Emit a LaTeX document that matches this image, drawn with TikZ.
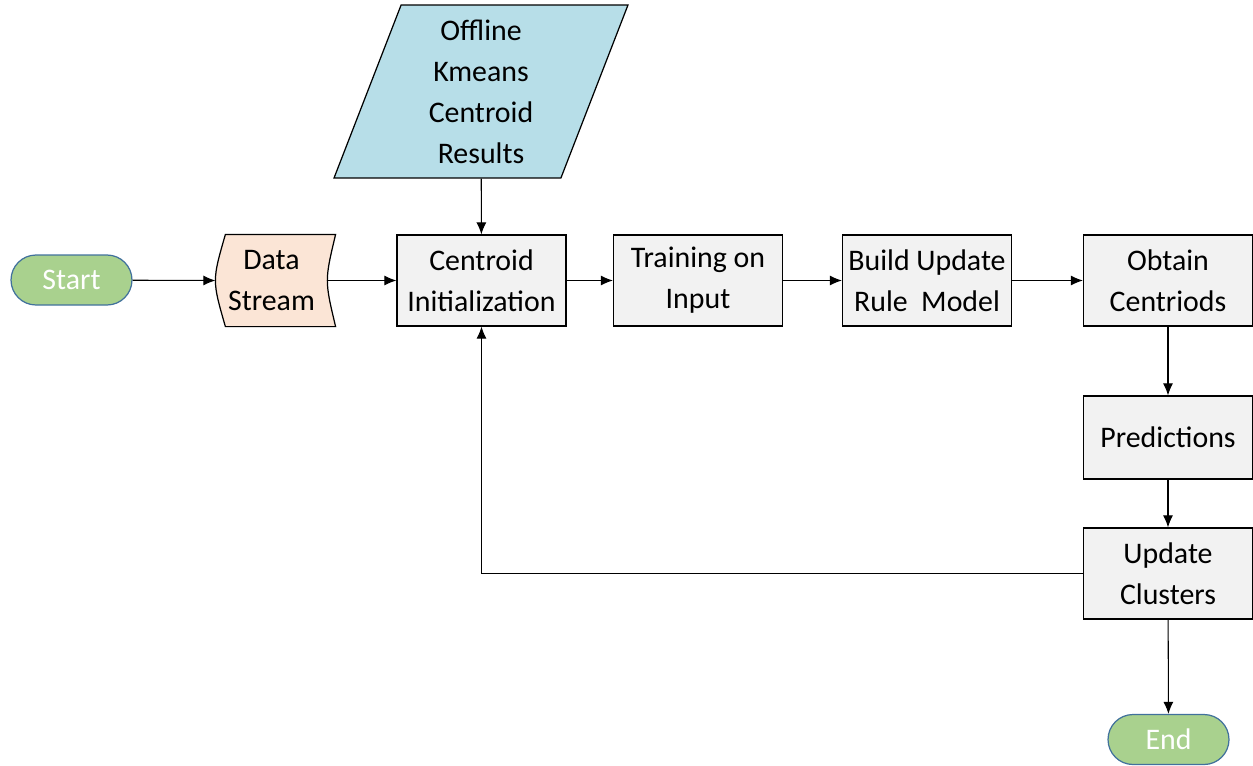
\documentclass[tikz,border=0pt]{standalone}
\usepackage{fontspec}
\setmainfont{Carlito}
\usetikzlibrary{shapes.geometric,arrows.meta}
\definecolor{termgreen}{HTML}{A9D18E}
\definecolor{termblue}{HTML}{41719C}
\definecolor{storepeach}{HTML}{FBE5D6}
\definecolor{inpblue}{HTML}{B7DEE8}
\definecolor{procgray}{HTML}{F2F2F2}
\pgfdeclarelayer{bg}
\pgfsetlayers{bg,main}

\begin{document}
\begin{tikzpicture}[x=0.02cm, y=-0.02cm,
  box/.style={draw, line width=0.7pt, inner sep=2pt, align=center,
              font=\fontsize{17}{23.3}\selectfont},
  proc/.style={box, fill=procgray, minimum width=3.38cm, minimum height=1.82cm},
  term/.style={box, draw=termblue, fill=termgreen, text=white,
               rounded corners=0.5cm, minimum width=2.42cm, minimum height=1.0cm},
  inp/.style={box, fill=inpblue, trapezium, trapezium left angle=66,
              trapezium right angle=114, trapezium stretches body,
              minimum width=5.88cm, minimum height=3.46cm},
  store/.style={box, draw=none, minimum width=2.22cm, minimum height=1.82cm},
  arr/.style={draw, line width=0.6pt, -{Latex[length=2.4mm,width=2mm]}},
]
\useasboundingbox (0,0) rectangle (1253,765);
% --- Top row ---
\node[term] (start) at (71.5, 280) {Start};
\node[store] (ds) at (271.5, 280.5) {Data\\Stream};
\node[inp] (offl) at (481, 91.5) {Offline\\Kmeans\\Centroid\\Results};
\node[proc] (ci) at (481.5, 280.5) {Centroid\\Initialization};
\node[proc] (tr) at (698, 280.5) {Training on\\Input};
\node[proc] (bu) at (927, 280.5) {Build Update\\Rule~~Model};
\node[proc] (oc) at (1168, 280.5) {Obtain\\Centriods};
% --- Right column ---
\node[proc, minimum height=1.66cm] (pr) at (1168, 437.5) {Predictions};
\node[proc] (uc) at (1168, 573.5) {Update\\Clusters};
\node[term] (en) at (1168.5, 739.5) {End};
% --- stored data outline ---
\begin{pgfonlayer}{bg}
\draw[line width=0.7pt, fill=storepeach]
  ([xshift=0.2cm]ds.north west) -- ([xshift=0.16cm]ds.north east)
  .. controls ([xshift=-0.06cm]ds.east) .. ([xshift=0.16cm]ds.south east)
  -- ([xshift=0.2cm]ds.south west)
  .. controls ([xshift=-0.066cm]ds.west) .. ([xshift=0.2cm]ds.north west) -- cycle;
\end{pgfonlayer}
% --- Connectors ---
\draw[arr] (start) -- (ds.west);
\draw[arr] (ds.east) -- (ci);
\draw[arr] (offl) -- (ci);
\draw[arr] (ci) -- (tr);
\draw[arr] (tr) -- (bu);
\draw[arr] (bu) -- (oc);
\draw[arr] (oc) -- (pr);
\draw[arr] (pr) -- (uc);
\draw[arr] (uc) -- (en);
\draw[arr] (uc.west) -| (ci.south);
\end{tikzpicture}
\end{document}
